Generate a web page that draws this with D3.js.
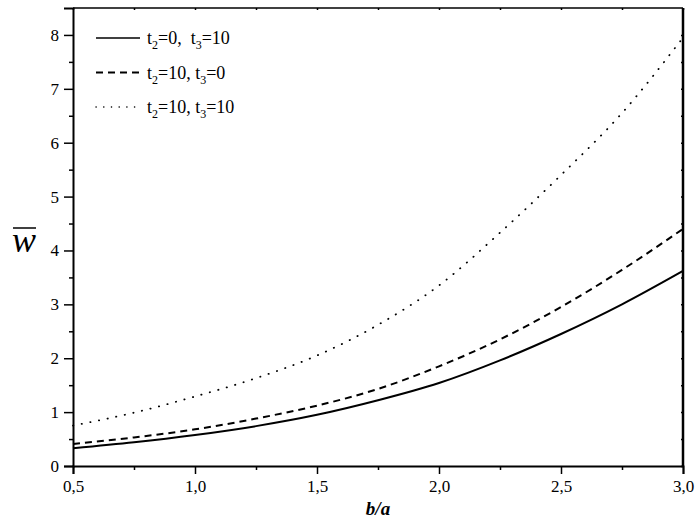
<!DOCTYPE html>
<html>
<head>
<meta charset="utf-8">
<script src="https://cdn.jsdelivr.net/npm/d3@7"></script>
<style>
  html, body { margin: 0; padding: 0; background: #fff; }
  svg text { font-family: "Liberation Serif", "DejaVu Serif", serif !important; fill: #000; }
</style>
</head>
<body>
<svg id="chart" width="695" height="521"></svg>
<script>
// b/a values
const ratios = [0.5, 0.75, 1.0, 1.25, 1.5, 1.75, 2.0, 2.25, 2.5, 2.75, 3.0];
// w-bar for each case
const wT0T10 = [0.33, 0.44, 0.575, 0.74, 0.95, 1.22, 1.54, 1.96, 2.45, 3.0, 3.62];
const wT10T0 = [0.41, 0.53, 0.68, 0.88, 1.12, 1.43, 1.85, 2.35, 2.95, 3.64, 4.40];
const wT10T10 = [0.75, 0.99, 1.29, 1.63, 2.05, 2.62, 3.35, 4.33, 5.40, 6.55, 7.95];

const xTicks = [0.5, 1.0, 1.5, 2.0, 2.5, 3.0];
const xMinor = [0.75, 1.25, 1.75, 2.25, 2.75];
const yTicks = [0, 1, 2, 3, 4, 5, 6, 7, 8];
const yMinor = [0.5, 1.5, 2.5, 3.5, 4.5, 5.5, 6.5, 7.5];

const legendItems = [
  { t2: '0, ', t3: '10', dash: null, values: wT0T10 },
  { t2: '10, ', t3: '0', dash: '7,5', values: wT10T0 },
  { t2: '10, ', t3: '10', dash: 'dot', values: wT10T10 }
];

const serif = '"Liberation Serif", "DejaVu Serif", serif';
const margin = { top: 8, right: 12, bottom: 55, left: 73 };
const svg = d3.select('#chart');
const width = 695 - margin.left - margin.right;
const height = 521 - margin.top - margin.bottom;

const x = d3.scaleLinear().domain([0.5, 3.0]).range([0, width]);
const y = d3.scaleLinear().domain([0, 8.5]).range([height, 0]);

const g = svg.append('g')
  .attr('transform', `translate(${margin.left}, ${margin.top})`);

const fmt = d => d3.format('.1f')(d).replace('.', ',');

// bottom axis
g.append('g')
  .attr('transform', `translate(0, ${height})`)
  .call(d3.axisBottom(x).tickValues(xTicks).tickFormat(fmt).tickSize(8).tickPadding(6))
  .attr('font-family', serif).attr('font-size', 17);
g.append('g')
  .attr('transform', `translate(0, ${height})`)
  .call(d3.axisBottom(x).tickValues(xMinor).tickFormat('').tickSize(4))
  .select('.domain').remove();

// left axis
g.append('g')
  .call(d3.axisLeft(y).tickValues(yTicks).tickFormat(d3.format('d')).tickSize(9).tickPadding(5))
  .attr('font-family', serif).attr('font-size', 17);
g.append('g')
  .call(d3.axisLeft(y).tickValues(yMinor).tickFormat('').tickSize(4))
  .select('.domain').remove();

// top and right axes, short inward ticks
g.append('g')
  .call(d3.axisBottom(x).tickValues(xTicks.concat(xMinor)).tickFormat('').tickSize(2))
  .select('.domain').remove();
g.append('g')
  .attr('transform', `translate(${width}, 0)`)
  .call(d3.axisLeft(y).tickValues(yTicks.concat(yMinor)).tickFormat('').tickSize(2))
  .select('.domain').remove();

g.selectAll('.tick line').attr('stroke', '#000').attr('stroke-width', 1.5);
g.selectAll('.domain').attr('stroke', '#000').attr('stroke-width', 2);

// frame
g.append('line').attr('x1', 0).attr('x2', width).attr('y1', 0).attr('y2', 0)
  .attr('stroke', '#000').attr('stroke-width', 1.5);
g.append('line').attr('x1', width).attr('x2', width).attr('y1', 0).attr('y2', height)
  .attr('stroke', '#000').attr('stroke-width', 2.5);

// curves
const line = d3.line()
  .x((d, i) => x(ratios[i]))
  .y(d => y(d))
  .curve(d3.curveMonotoneX);

legendItems.forEach(item => {
  const dotted = item.dash === 'dot';
  g.append('path')
    .datum(item.values)
    .attr('d', line)
    .attr('fill', 'none')
    .attr('stroke', '#000')
    .attr('stroke-width', dotted ? 1.8 : 2)
    .attr('stroke-linecap', dotted ? 'round' : 'butt')
    .attr('stroke-dasharray', dotted ? '0.3,8.5' : item.dash);
});

// legend
const legend = g.append('g').attr('transform', 'translate(23, 30)');
legendItems.forEach((item, i) => {
  const dotted = item.dash === 'dot';
  const row = legend.append('g').attr('transform', `translate(0, ${i * 34.5})`);
  row.append('line')
    .attr('x1', 0).attr('x2', item.dash === '7,5' ? 48 : 44)
    .attr('y1', 0).attr('y2', 0)
    .attr('stroke', '#000')
    .attr('stroke-width', dotted ? 1.4 : (item.dash ? 2 : 1.5))
    .attr('stroke-linecap', dotted ? 'round' : 'butt')
    .attr('stroke-dasharray', dotted ? '0.2,7.5' : item.dash);
  const t = row.append('text')
    .attr('x', 51).attr('y', 6)
    .attr('font-family', serif)
    .attr('font-size', '18px');
  t.append('tspan').text('t');
  t.append('tspan').attr('font-size', '12px').attr('dy', 5).text('2');
  t.append('tspan').attr('dy', -5).text('=' + item.t2 + (i === 0 ? '\u00a0' : ''));
  t.append('tspan').text('t');
  t.append('tspan').attr('font-size', '12px').attr('dy', 5).text('3');
  t.append('tspan').attr('dy', -5).text('=' + item.t3);
});

// axis titles
svg.append('text')
  .attr('x', margin.left + width / 2)
  .attr('y', 515)
  .attr('text-anchor', 'middle')
  .attr('font-family', serif)
  .attr('font-size', '19px')
  .attr('font-weight', 'bold')
  .attr('font-style', 'italic')
  .text('b/a');

svg.append('text')
  .attr('x', 24)
  .attr('y', 252)
  .attr('text-anchor', 'middle')
  .attr('font-family', serif)
  .attr('font-size', '36px')
  .attr('font-style', 'italic')
  .text('w');
svg.append('line')
  .attr('x1', 13).attr('x2', 36)
  .attr('y1', 228).attr('y2', 228)
  .attr('stroke', '#000').attr('stroke-width', 1.5);
</script>
</body>
</html>
